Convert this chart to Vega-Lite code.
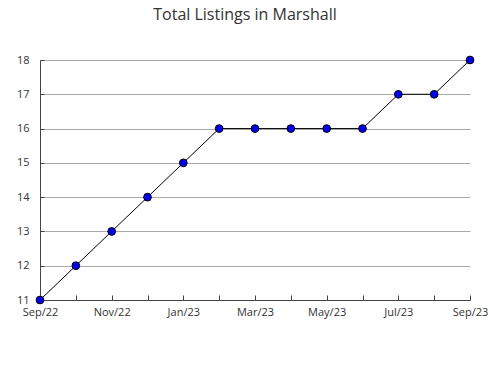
{
  "$schema": "https://vega.github.io/schema/vega-lite/v6.json",
  "autosize": {"type": "none"},
  "width": 430,
  "height": 240,
  "padding": {"left": 40, "top": 60, "right": 20, "bottom": 80},
  "background": "white",
  "title": {"text": "Total Listings in Marshall", "fontSize": 16, "font": "Open Sans", "fontWeight": "normal", "color": "#333333", "anchor": "middle", "dx": -10, "offset": 31},
  "data": {"values": [
    {"month": "Sep/22", "listings": 11},
    {"month": "Oct/22", "listings": 12},
    {"month": "Nov/22", "listings": 13},
    {"month": "Dec/22", "listings": 14},
    {"month": "Jan/23", "listings": 15},
    {"month": "Feb/23", "listings": 16},
    {"month": "Mar/23", "listings": 16},
    {"month": "Apr/23", "listings": 16},
    {"month": "May/23", "listings": 16},
    {"month": "Jun/23", "listings": 16},
    {"month": "Jul/23", "listings": 17},
    {"month": "Aug/23", "listings": 17},
    {"month": "Sep/23", "listings": 18}
  ]},
  "config": {"view": {"stroke": null}},
  "encoding": {
    "x": {"field": "month", "type": "ordinal", "sort": null, "scale": {"type": "point", "padding": 0},
      "axis": {"title": null, "labelAngle": 0, "labelFont": "Open Sans", "labelFontSize": 11, "labelColor": "#333333",
        "labelExpr": "indexof(['Sep/22','Nov/22','Jan/23','Mar/23','May/23','Jul/23','Sep/23'], datum.value) >= 0 ? datum.label : ''",
        "tickSize": -5, "tickColor": "#444444", "domainColor": "#444444", "labelPadding": 11, "grid": false}},
    "y": {"field": "listings", "type": "quantitative", "scale": {"domain": [11, 18], "nice": false, "zero": false},
      "axis": {"title": null, "values": [11, 11.5, 12, 12.5, 13, 13.5, 14, 14.5, 15, 15.5, 16, 16.5, 17, 17.5, 18],
        "format": "d",
        "labelExpr": "datum.value % 1 == 0 ? datum.label : ''", "labelFont": "Open Sans", "labelFontSize": 11, "labelColor": "#333333",
        "tickSize": -4, "tickColor": "#444444", "domainColor": "#444444", "labelPadding": 15,
        "grid": true, "gridColor": "#aaaaaa", "gridOpacity": {"condition": {"test": "datum.value % 1 != 0 || datum.value == 11", "value": 0}, "value": 1}}}
  },
  "layer": [
    {"mark": {"type": "line", "color": "black", "strokeWidth": 1}},
    {"mark": {"type": "point", "filled": true, "fill": "#0000ee", "stroke": "black", "strokeWidth": 1, "size": 60, "opacity": 1}}
  ]
}
